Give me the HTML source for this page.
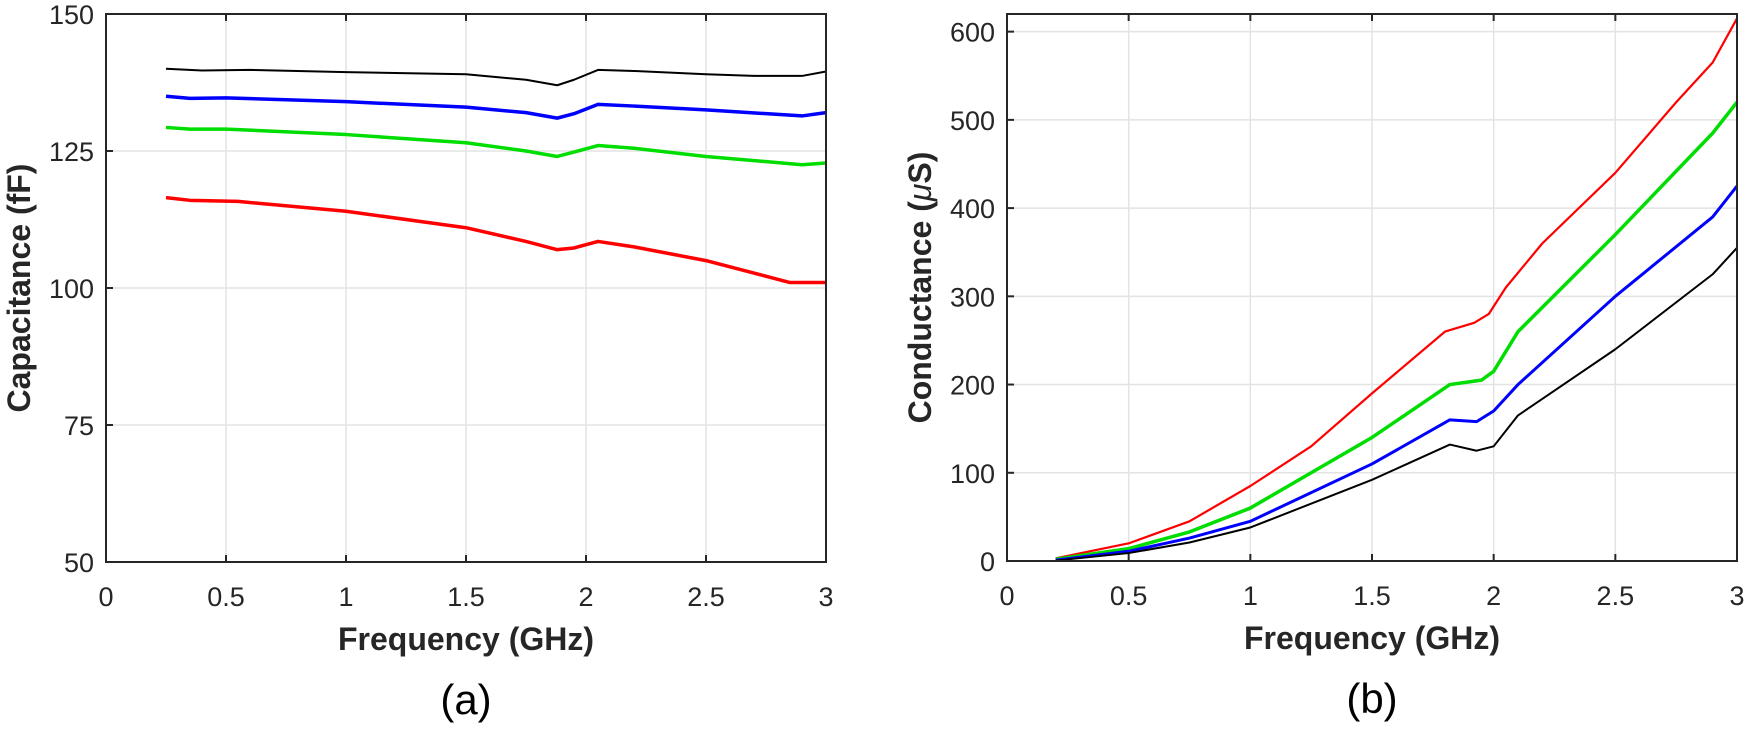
<!DOCTYPE html>
<html><head><meta charset="utf-8"><style>
body{margin:0;background:#fff;}
svg text{font-family:"Liberation Sans",Arial,sans-serif;}
</style></head><body>
<svg id="s" width="1750" height="725" xmlns="http://www.w3.org/2000/svg"></svg>
<script>
const s=document.getElementById('s');let h='';
function plot(x0,x1,y0,y1,ymin,ymax,yt,ylab,lab,curves){
  const X=v=>x0+(x1-x0)*v/3, Y=v=>y1-(y1-y0)*(v-ymin)/(ymax-ymin);
  for(let i=1;i<6;i++){const x=X(i*0.5);h+=`<line x1="${x}" y1="${y0}" x2="${x}" y2="${y1}" stroke="#e3e3e3" stroke-width="1.5"/>`;}
  yt.forEach(v=>{const y=Y(v);if(v!=ymin&&Math.abs(y-y0)>2)h+=`<line x1="${x0}" y1="${y}" x2="${x1}" y2="${y}" stroke="#e3e3e3" stroke-width="1.5"/>`;});
  curves.forEach(([c,pts,w])=>{h+=`<polyline fill="none" stroke="${c}" stroke-width="${w}" stroke-linejoin="round" points="${pts.map(p=>X(p[0])+','+Y(p[1])).join(' ')}"/>`;});
  h+=`<rect x="${x0}" y="${y0}" width="${x1-x0}" height="${y1-y0}" fill="none" stroke="#262626" stroke-width="2"/>`;
  for(let i=0;i<=6;i++){const x=X(i*0.5);h+=`<line x1="${x}" y1="${y1}" x2="${x}" y2="${y1-7}" stroke="#262626" stroke-width="2"/><line x1="${x}" y1="${y0}" x2="${x}" y2="${y0+7}" stroke="#262626" stroke-width="2"/><text x="${x}" y="${y1+44}" font-size="27" text-anchor="middle" fill="#262626">${i*0.5}</text>`;}
  yt.forEach(v=>{const y=Y(v);h+=`<line x1="${x0}" y1="${y}" x2="${x0+7}" y2="${y}" stroke="#262626" stroke-width="2"/><text x="${x0-12}" y="${y+10}" font-size="27" text-anchor="end" fill="#262626">${v}</text>`;});
  const cx=(x0+x1)/2;
  h+=`<text x="${cx}" y="${y1+88}" font-size="32" font-weight="bold" text-anchor="middle" fill="#262626">Frequency (GHz)</text>`;
  h+=`<text x="${cx}" y="${y1+152}" font-size="42" text-anchor="middle" fill="#000">${lab}</text>`;
  h+=`<text transform="translate(${x0-76},${(y0+y1)/2}) rotate(-90)" font-size="32" font-weight="bold" text-anchor="middle" fill="#262626">${ylab}</text>`;
}
plot(106,826,14,562,50,150,[50,75,100,125,150],'Capacitance (fF)','(a)',[
['#000',[[0.25,140],[0.4,139.7],[0.6,139.8],[1,139.4],[1.5,139],[1.75,138],[1.88,137],[1.95,138],[2.05,139.8],[2.2,139.6],[2.5,139],[2.7,138.7],[2.9,138.7],[3,139.5]],2],
['#0000ff',[[0.25,135],[0.35,134.6],[0.5,134.7],[1,134],[1.5,133],[1.75,132],[1.88,131],[1.95,131.8],[2.05,133.5],[2.2,133.2],[2.5,132.5],[2.9,131.4],[3,132]],3.5],
['#00dd00',[[0.25,129.3],[0.35,129],[0.5,129],[1,128],[1.5,126.5],[1.75,125],[1.88,124],[1.95,124.8],[2.05,126],[2.2,125.5],[2.5,124],[2.9,122.5],[3,122.8]],3.5],
['#ff0000',[[0.25,116.5],[0.35,116],[0.55,115.8],[1,114],[1.5,111],[1.75,108.5],[1.88,107],[1.95,107.3],[2.05,108.5],[2.2,107.5],[2.5,105],[2.85,101],[3,101]],3.5]
]);
plot(1007,1737,14,561,0,620,[0,100,200,300,400,500,600],'Conductance (<tspan font-style="italic" font-weight="normal">\u03bc</tspan>S)','(b)',[
['#ff0000',[[0.2,3],[0.5,20],[0.75,45],[1,85],[1.25,130],[1.5,190],[1.8,260],[1.92,270],[1.98,280],[2.05,310],[2.2,360],[2.5,440],[2.75,520],[2.9,565],[3,615]],2.2],
['#00dd00',[[0.2,2],[0.5,14],[0.75,33],[1,60],[1.5,140],[1.82,200],[1.95,205],[2.0,215],[2.1,260],[2.5,370],[2.9,485],[3,520]],3.5],
['#0000ff',[[0.2,1],[0.5,11],[0.75,26],[1,45],[1.5,110],[1.82,160],[1.93,158],[2.0,170],[2.1,200],[2.5,300],[2.9,390],[3,425]],3],
['#000',[[0.2,0.5],[0.5,9],[0.75,21],[1,38],[1.5,92],[1.82,132],[1.93,125],[2.0,130],[2.1,165],[2.5,240],[2.9,325],[3,355]],2]
]);
s.innerHTML=h;
</script>
</body></html>
